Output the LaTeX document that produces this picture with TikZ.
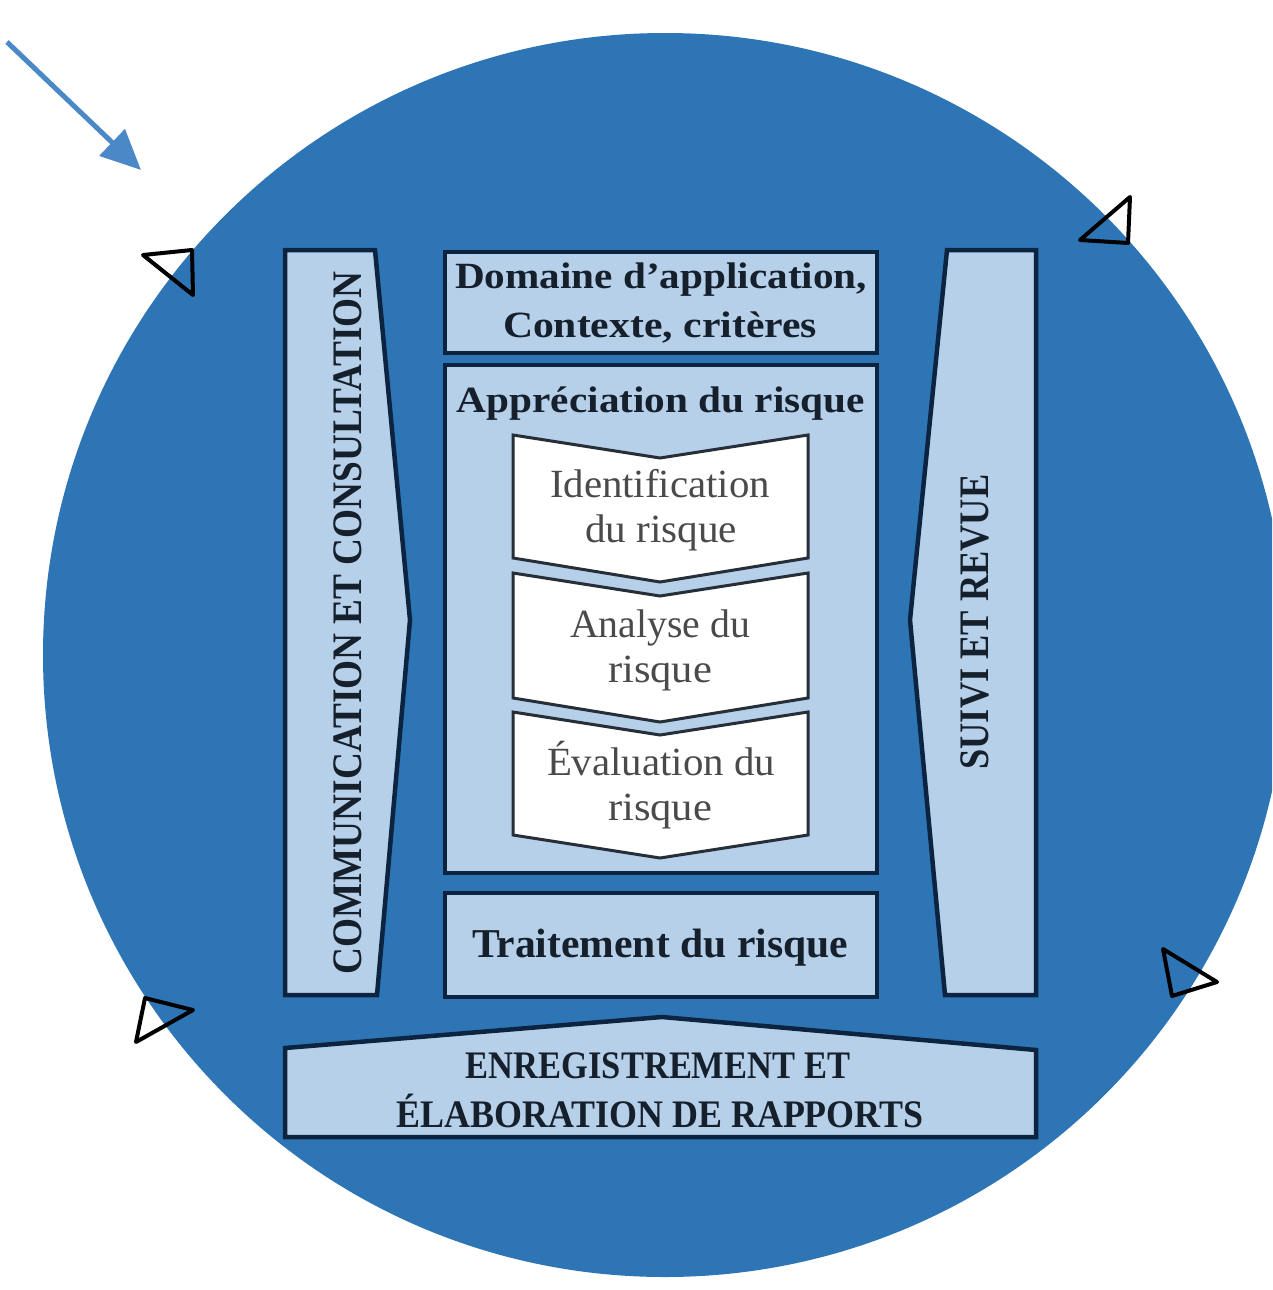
\documentclass[tikz,border=0pt]{standalone}
\usepackage{fontspec}
\setmainfont{Liberation Serif}
\usetikzlibrary{arrows.meta}

\definecolor{disc}{HTML}{2E75B6}
\definecolor{panel}{HTML}{B6D0E9}
\definecolor{edge}{HTML}{0D2440}
\definecolor{ink}{HTML}{16202C}
\definecolor{stepink}{HTML}{4A4A4A}
\definecolor{stepedge}{HTML}{262E38}
\definecolor{arrowblue}{HTML}{4A88C7}

% scale a text horizontally to a given width, keeping its height
\newcommand{\wfit}[2]{\resizebox{#1}{\height}{#2}}

\tikzset{
  panelbox/.style={fill=panel, draw=edge, line width=4.5pt, line join=miter},
  stepbox/.style={fill=white, draw=stepedge, line width=3pt, line join=miter},
  marker/.style={draw=black, line width=4pt, line join=round},
  boldtxt/.style={inner sep=0pt, anchor=base, text=ink, font=\bfseries\fontsize{#1}{#1}\selectfont},
  steptxt/.style={inner sep=0pt, anchor=base, text=stepink, font=\fontsize{#1}{#1}\selectfont},
}

\begin{document}
\begin{tikzpicture}[x=1pt, y=-1pt]
  \useasboundingbox (0,0) rectangle (1272,1290);
  \clip (0,0) rectangle (1272,1290);
  \fill[white] (0,0) rectangle (1272,1290);

  % the process disc
  \fill[disc] (665,655) circle[radius=622];

  % incoming arrow
  \coordinate (arrowstart) at (7,42);
  \coordinate (arrowend) at (141,170);
  \draw[arrowblue, line width=5pt, -{Triangle[length=40pt, width=36pt]}] (arrowstart) -- (arrowend);

  % open triangular markers on the rim
  \draw[marker] (143,255) -- (192,250) -- (193,295) -- cycle;
  \draw[marker] (1130,197) -- (1080,240) -- (1128,243) -- cycle;
  \draw[marker] (145,998) -- (193,1010) -- (136,1042) -- cycle;
  \draw[marker] (1163,949) -- (1217,982) -- (1172,996) -- cycle;

  % side columns
  \draw[panelbox] (285,250) -- (375,250) -- (410,620) -- (377,995) -- (285,995) -- cycle;
  \draw[panelbox] (947,250) -- (1036,250) -- (1036,995) -- (945,995) -- (910,620) -- cycle;

  % central column
  \draw[panelbox] (445,252) rectangle (877,353);
  \draw[panelbox] (445,365) rectangle (877,873);
  \draw[panelbox] (445,893) rectangle (877,997);

  % assessment steps
  \draw[stepbox] (513,435) -- (660,458) -- (808,435) -- (808,558) -- (660,582) -- (513,558) -- cycle;
  \draw[stepbox] (513,573) -- (660,596) -- (808,573) -- (808,698) -- (660,722) -- (513,698) -- cycle;
  \draw[stepbox] (513,712) -- (660,735) -- (808,712) -- (808,835) -- (660,858) -- (513,835) -- cycle;

  % bottom banner
  \draw[panelbox] (285,1048) -- (662,1017) -- (1036,1050) -- (1036,1137) -- (285,1137) -- cycle;

  % labels
  \node[boldtxt=37] (dom) at (661,288) {\wfit{412pt}{Domaine d’application,}};
  \node[boldtxt=37] (ctx) at (660,337) {\wfit{314pt}{Contexte, critères}};
  \node[boldtxt=37] (appr) at (661,412) {\wfit{408pt}{Appréciation du risque}};

  \node[steptxt=40] (ida) at (660,497) {\wfit{220pt}{Identification}};
  \node[steptxt=40] (idb) at (661,542) {\wfit{152pt}{du risque}};
  \node[steptxt=40] (ana) at (660,637) {\wfit{180pt}{Analyse du}};
  \node[steptxt=40] (anb) at (660,682) {\wfit{104pt}{risque}};
  \node[steptxt=40] (eva) at (661,775) {\wfit{228pt}{Évaluation du}};
  \node[steptxt=40] (evb) at (660,820) {\wfit{104pt}{risque}};

  \node[boldtxt=41] (trt) at (660,957) {\wfit{376pt}{Traitement du risque}};

  \node[boldtxt=42, rotate=90] (com) at (361,623) {\wfit{703pt}{COMMUNICATION ET CONSULTATION}};
  \node[boldtxt=42, rotate=90] (suivi) at (988,622) {\wfit{295pt}{SUIVI ET REVUE}};

  \node[boldtxt=39] (enr) at (658,1078) {\wfit{384pt}{ENREGISTREMENT ET}};
  \node[boldtxt=39] (elab) at (660,1127) {\wfit{527pt}{ÉLABORATION DE RAPPORTS}};
\end{tikzpicture}
\end{document}
